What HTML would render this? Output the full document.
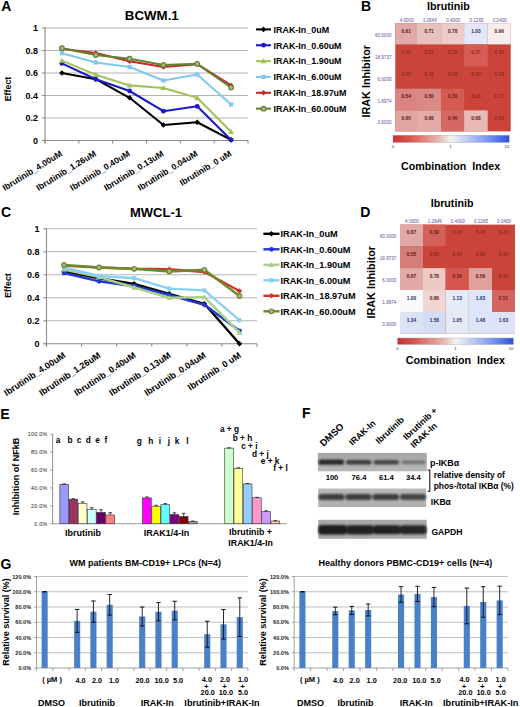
<!DOCTYPE html>
<html><head><meta charset="utf-8"><style>
html,body{margin:0;padding:0;background:#fff;}
body{width:520px;height:707px;overflow:hidden;font-family:"Liberation Sans", sans-serif;}
svg{display:block;}
</style></head><body>
<svg width="520" height="707" viewBox="0 0 520 707" font-family='"Liberation Sans", sans-serif'>
<rect x="0" y="0" width="520" height="707" fill="#ffffff"/>
<text x="1.3" y="10.7" font-size="14" font-weight="bold" text-anchor="start" fill="#000">A</text>
<text x="124.8" y="20.2" font-size="13.3" font-weight="bold" text-anchor="start" fill="#000">BCWM.1</text>
<line x1="45" y1="118" x2="248" y2="118" stroke="#b4b4b4" stroke-width="1.1"/>
<line x1="45" y1="95.5" x2="248" y2="95.5" stroke="#b4b4b4" stroke-width="1.1"/>
<line x1="45" y1="73" x2="248" y2="73" stroke="#b4b4b4" stroke-width="1.1"/>
<line x1="45" y1="50.5" x2="248" y2="50.5" stroke="#b4b4b4" stroke-width="1.1"/>
<line x1="45" y1="28" x2="248" y2="28" stroke="#b4b4b4" stroke-width="1.1"/>
<line x1="45" y1="27.5" x2="45" y2="143.5" stroke="#8c8c8c" stroke-width="1.1"/>
<line x1="42" y1="140.5" x2="248" y2="140.5" stroke="#8c8c8c" stroke-width="1.1"/>
<line x1="42" y1="140.5" x2="45" y2="140.5" stroke="#8c8c8c" stroke-width="1.1"/>
<text x="38" y="143.8" font-size="9" font-weight="bold" text-anchor="end" fill="#000">0</text>
<line x1="42" y1="118" x2="45" y2="118" stroke="#8c8c8c" stroke-width="1.1"/>
<text x="38" y="121.3" font-size="9" font-weight="bold" text-anchor="end" fill="#000">0.2</text>
<line x1="42" y1="95.5" x2="45" y2="95.5" stroke="#8c8c8c" stroke-width="1.1"/>
<text x="38" y="98.8" font-size="9" font-weight="bold" text-anchor="end" fill="#000">0.4</text>
<line x1="42" y1="73" x2="45" y2="73" stroke="#8c8c8c" stroke-width="1.1"/>
<text x="38" y="76.3" font-size="9" font-weight="bold" text-anchor="end" fill="#000">0.6</text>
<line x1="42" y1="50.5" x2="45" y2="50.5" stroke="#8c8c8c" stroke-width="1.1"/>
<text x="38" y="53.8" font-size="9" font-weight="bold" text-anchor="end" fill="#000">0.8</text>
<line x1="42" y1="28" x2="45" y2="28" stroke="#8c8c8c" stroke-width="1.1"/>
<text x="38" y="31.3" font-size="9" font-weight="bold" text-anchor="end" fill="#000">1</text>
<line x1="45" y1="140.5" x2="45" y2="143.5" stroke="#8c8c8c" stroke-width="1.1"/>
<line x1="78.8333" y1="140.5" x2="78.8333" y2="143.5" stroke="#8c8c8c" stroke-width="1.1"/>
<line x1="112.667" y1="140.5" x2="112.667" y2="143.5" stroke="#8c8c8c" stroke-width="1.1"/>
<line x1="146.5" y1="140.5" x2="146.5" y2="143.5" stroke="#8c8c8c" stroke-width="1.1"/>
<line x1="180.333" y1="140.5" x2="180.333" y2="143.5" stroke="#8c8c8c" stroke-width="1.1"/>
<line x1="214.167" y1="140.5" x2="214.167" y2="143.5" stroke="#8c8c8c" stroke-width="1.1"/>
<line x1="248" y1="140.5" x2="248" y2="143.5" stroke="#8c8c8c" stroke-width="1.1"/>
<polyline points="61.9,73.0 95.8,79.2 129.6,97.8 163.4,125.0 197.2,122.3 231.1,139.9" fill="none" stroke="#000000" stroke-width="2.1" stroke-linejoin="round"/>
<path d="M61.9 70.2 L64.7 73.0 L61.9 75.8 L59.1 73.0 Z" fill="#000000"/>
<path d="M95.8 76.4 L98.5 79.2 L95.8 82.0 L93.0 79.2 Z" fill="#000000"/>
<path d="M129.6 95.0 L132.4 97.8 L129.6 100.5 L126.8 97.8 Z" fill="#000000"/>
<path d="M163.4 122.2 L166.2 125.0 L163.4 127.8 L160.6 125.0 Z" fill="#000000"/>
<path d="M197.2 119.5 L200.1 122.3 L197.2 125.1 L194.4 122.3 Z" fill="#000000"/>
<path d="M231.1 137.1 L233.9 139.9 L231.1 142.7 L228.3 139.9 Z" fill="#000000"/>
<polyline points="61.9,63.4 95.8,79.2 129.6,91.0 163.4,111.2 197.2,106.3 231.1,139.9" fill="none" stroke="#1a1ac8" stroke-width="2.1" stroke-linejoin="round"/>
<circle cx="61.9" cy="63.4" r="2.4" fill="#1a1ac8"/>
<circle cx="95.8" cy="79.2" r="2.4" fill="#1a1ac8"/>
<circle cx="129.6" cy="91.0" r="2.4" fill="#1a1ac8"/>
<circle cx="163.4" cy="111.2" r="2.4" fill="#1a1ac8"/>
<circle cx="197.2" cy="106.3" r="2.4" fill="#1a1ac8"/>
<circle cx="231.1" cy="139.9" r="2.4" fill="#1a1ac8"/>
<polyline points="61.9,60.6 95.8,74.7 129.6,85.4 163.4,88.0 197.2,97.8 231.1,131.7" fill="none" stroke="#a4c25a" stroke-width="2.1" stroke-linejoin="round"/>
<path d="M61.9 57.7 L64.8 62.8 L59.0 62.8 Z" fill="#a4c25a"/>
<path d="M95.8 71.8 L98.7 76.9 L92.8 76.9 Z" fill="#a4c25a"/>
<path d="M129.6 82.5 L132.5 87.5 L126.7 87.5 Z" fill="#a4c25a"/>
<path d="M163.4 85.1 L166.3 90.1 L160.5 90.1 Z" fill="#a4c25a"/>
<path d="M197.2 94.8 L200.2 99.9 L194.3 99.9 Z" fill="#a4c25a"/>
<path d="M231.1 128.8 L234.0 133.9 L228.2 133.9 Z" fill="#a4c25a"/>
<polyline points="61.9,53.2 95.8,62.5 129.6,67.0 163.4,80.5 197.2,74.5 231.1,104.5" fill="none" stroke="#80c8f0" stroke-width="2.1" stroke-linejoin="round"/>
<rect x="59.8" y="51.1" width="4.2" height="4.2" fill="#80c8f0"/>
<rect x="93.7" y="60.4" width="4.2" height="4.2" fill="#80c8f0"/>
<rect x="127.5" y="64.9" width="4.2" height="4.2" fill="#80c8f0"/>
<rect x="161.3" y="78.4" width="4.2" height="4.2" fill="#80c8f0"/>
<rect x="195.2" y="72.4" width="4.2" height="4.2" fill="#80c8f0"/>
<rect x="229.0" y="102.4" width="4.2" height="4.2" fill="#80c8f0"/>
<polyline points="61.9,48.8 95.8,53.0 129.6,61.3 163.4,67.0 197.2,64.2 231.1,85.5" fill="none" stroke="#c8282a" stroke-width="2.1" stroke-linejoin="round"/>
<path d="M61.9 46.0 L64.7 48.8 L61.9 51.6 L59.1 48.8 Z" fill="#c8282a"/>
<path d="M95.8 50.2 L98.5 53.0 L95.8 55.8 L93.0 53.0 Z" fill="#c8282a"/>
<path d="M129.6 58.5 L132.4 61.3 L129.6 64.1 L126.8 61.3 Z" fill="#c8282a"/>
<path d="M163.4 64.2 L166.2 67.0 L163.4 69.8 L160.6 67.0 Z" fill="#c8282a"/>
<path d="M197.2 61.4 L200.1 64.2 L197.2 67.0 L194.4 64.2 Z" fill="#c8282a"/>
<path d="M231.1 82.7 L233.9 85.5 L231.1 88.3 L228.3 85.5 Z" fill="#c8282a"/>
<polyline points="61.9,48.2 95.8,55.0 129.6,58.7 163.4,65.0 197.2,63.8 231.1,87.5" fill="none" stroke="#62822e" stroke-width="2.1" stroke-linejoin="round"/>
<circle cx="61.9" cy="48.2" r="2.3" fill="#a8b890" stroke="#62822e" stroke-width="1.2"/>
<circle cx="95.8" cy="55.0" r="2.3" fill="#a8b890" stroke="#62822e" stroke-width="1.2"/>
<circle cx="129.6" cy="58.7" r="2.3" fill="#a8b890" stroke="#62822e" stroke-width="1.2"/>
<circle cx="163.4" cy="65.0" r="2.3" fill="#a8b890" stroke="#62822e" stroke-width="1.2"/>
<circle cx="197.2" cy="63.8" r="2.3" fill="#a8b890" stroke="#62822e" stroke-width="1.2"/>
<circle cx="231.1" cy="87.5" r="2.3" fill="#a8b890" stroke="#62822e" stroke-width="1.2"/>
<text x="62.9167" y="155.3" font-size="8.6" font-weight="bold" text-anchor="end" fill="#000" transform="rotate(-31.5 62.9167 155.3)">Ibrutinib_4.00uM</text>
<text x="96.75" y="155.3" font-size="8.6" font-weight="bold" text-anchor="end" fill="#000" transform="rotate(-31.5 96.75 155.3)">Ibrutinib_1.26uM</text>
<text x="130.583" y="155.3" font-size="8.6" font-weight="bold" text-anchor="end" fill="#000" transform="rotate(-31.5 130.583 155.3)">Ibrutinib_0.40uM</text>
<text x="164.417" y="155.3" font-size="8.6" font-weight="bold" text-anchor="end" fill="#000" transform="rotate(-31.5 164.417 155.3)">Ibrutinib_0.13uM</text>
<text x="198.25" y="155.3" font-size="8.6" font-weight="bold" text-anchor="end" fill="#000" transform="rotate(-31.5 198.25 155.3)">Ibrutinib_0.04uM</text>
<text x="232.083" y="155.3" font-size="8.6" font-weight="bold" text-anchor="end" fill="#000" transform="rotate(-31.5 232.083 155.3)">Ibrutinib_0 uM</text>
<text x="11.3" y="89" font-size="8.9" font-weight="bold" text-anchor="middle" fill="#000" transform="rotate(-90 11.3 89)">Effect</text>
<line x1="256" y1="29.4" x2="271" y2="29.4" stroke="#000000" stroke-width="2.1"/>
<path d="M263.5 26.6 L266.3 29.4 L263.5 32.2 L260.7 29.4 Z" fill="#000000"/>
<text x="273.5" y="32.7" font-size="8.95" font-weight="bold" text-anchor="start" fill="#000">IRAK-In_0uM</text>
<line x1="256" y1="45.25" x2="271" y2="45.25" stroke="#1a1ac8" stroke-width="2.1"/>
<circle cx="263.5" cy="45.2" r="2.4" fill="#1a1ac8"/>
<text x="273.5" y="48.55" font-size="8.95" font-weight="bold" text-anchor="start" fill="#000">IRAK-In_0.60uM</text>
<line x1="256" y1="61.1" x2="271" y2="61.1" stroke="#a4c25a" stroke-width="2.1"/>
<path d="M263.5 58.2 L266.4 63.3 L260.6 63.3 Z" fill="#a4c25a"/>
<text x="273.5" y="64.4" font-size="8.95" font-weight="bold" text-anchor="start" fill="#000">IRAK-In_1.90uM</text>
<line x1="256" y1="76.95" x2="271" y2="76.95" stroke="#80c8f0" stroke-width="2.1"/>
<rect x="261.4" y="74.8" width="4.2" height="4.2" fill="#80c8f0"/>
<text x="273.5" y="80.25" font-size="8.95" font-weight="bold" text-anchor="start" fill="#000">IRAK-In_6.00uM</text>
<line x1="256" y1="92.8" x2="271" y2="92.8" stroke="#c8282a" stroke-width="2.1"/>
<path d="M263.5 90.0 L266.3 92.8 L263.5 95.6 L260.7 92.8 Z" fill="#c8282a"/>
<text x="273.5" y="96.1" font-size="8.95" font-weight="bold" text-anchor="start" fill="#000">IRAK-In_18.97uM</text>
<line x1="256" y1="108.65" x2="271" y2="108.65" stroke="#62822e" stroke-width="2.1"/>
<circle cx="263.5" cy="108.7" r="2.3" fill="#a8b890" stroke="#62822e" stroke-width="1.2"/>
<text x="273.5" y="111.95" font-size="8.95" font-weight="bold" text-anchor="start" fill="#000">IRAK-In_60.00uM</text>
<text x="1" y="216.6" font-size="14" font-weight="bold" text-anchor="start" fill="#000">C</text>
<text x="130" y="217.2" font-size="13" font-weight="bold" text-anchor="start" fill="#000">MWCL-1</text>
<line x1="46.5" y1="320.75" x2="257" y2="320.75" stroke="#b4b4b4" stroke-width="1.1"/>
<line x1="46.5" y1="297.75" x2="257" y2="297.75" stroke="#b4b4b4" stroke-width="1.1"/>
<line x1="46.5" y1="274.75" x2="257" y2="274.75" stroke="#b4b4b4" stroke-width="1.1"/>
<line x1="46.5" y1="251.75" x2="257" y2="251.75" stroke="#b4b4b4" stroke-width="1.1"/>
<line x1="46.5" y1="228.75" x2="257" y2="228.75" stroke="#b4b4b4" stroke-width="1.1"/>
<line x1="46.5" y1="228.25" x2="46.5" y2="346.75" stroke="#8c8c8c" stroke-width="1.1"/>
<line x1="43.5" y1="343.75" x2="257" y2="343.75" stroke="#8c8c8c" stroke-width="1.1"/>
<line x1="43.5" y1="343.75" x2="46.5" y2="343.75" stroke="#8c8c8c" stroke-width="1.1"/>
<text x="39.5" y="347.05" font-size="9" font-weight="bold" text-anchor="end" fill="#000">0</text>
<line x1="43.5" y1="320.75" x2="46.5" y2="320.75" stroke="#8c8c8c" stroke-width="1.1"/>
<text x="39.5" y="324.05" font-size="9" font-weight="bold" text-anchor="end" fill="#000">0.2</text>
<line x1="43.5" y1="297.75" x2="46.5" y2="297.75" stroke="#8c8c8c" stroke-width="1.1"/>
<text x="39.5" y="301.05" font-size="9" font-weight="bold" text-anchor="end" fill="#000">0.4</text>
<line x1="43.5" y1="274.75" x2="46.5" y2="274.75" stroke="#8c8c8c" stroke-width="1.1"/>
<text x="39.5" y="278.05" font-size="9" font-weight="bold" text-anchor="end" fill="#000">0.6</text>
<line x1="43.5" y1="251.75" x2="46.5" y2="251.75" stroke="#8c8c8c" stroke-width="1.1"/>
<text x="39.5" y="255.05" font-size="9" font-weight="bold" text-anchor="end" fill="#000">0.8</text>
<line x1="43.5" y1="228.75" x2="46.5" y2="228.75" stroke="#8c8c8c" stroke-width="1.1"/>
<text x="39.5" y="232.05" font-size="9" font-weight="bold" text-anchor="end" fill="#000">1</text>
<line x1="46.5" y1="343.75" x2="46.5" y2="346.75" stroke="#8c8c8c" stroke-width="1.1"/>
<line x1="81.5833" y1="343.75" x2="81.5833" y2="346.75" stroke="#8c8c8c" stroke-width="1.1"/>
<line x1="116.667" y1="343.75" x2="116.667" y2="346.75" stroke="#8c8c8c" stroke-width="1.1"/>
<line x1="151.75" y1="343.75" x2="151.75" y2="346.75" stroke="#8c8c8c" stroke-width="1.1"/>
<line x1="186.833" y1="343.75" x2="186.833" y2="346.75" stroke="#8c8c8c" stroke-width="1.1"/>
<line x1="221.917" y1="343.75" x2="221.917" y2="346.75" stroke="#8c8c8c" stroke-width="1.1"/>
<line x1="257" y1="343.75" x2="257" y2="346.75" stroke="#8c8c8c" stroke-width="1.1"/>
<polyline points="64.0,271.3 99.1,278.2 134.2,283.9 169.3,293.8 204.4,303.8 239.5,343.8" fill="none" stroke="#000000" stroke-width="2.4" stroke-linejoin="round"/>
<path d="M64.0 268.5 L66.8 271.3 L64.0 274.1 L61.2 271.3 Z" fill="#000000"/>
<path d="M99.1 275.4 L101.9 278.2 L99.1 281.0 L96.3 278.2 Z" fill="#000000"/>
<path d="M134.2 281.1 L137.0 283.9 L134.2 286.8 L131.4 283.9 Z" fill="#000000"/>
<path d="M169.3 291.0 L172.1 293.8 L169.3 296.6 L166.5 293.8 Z" fill="#000000"/>
<path d="M204.4 301.0 L207.2 303.8 L204.4 306.6 L201.6 303.8 Z" fill="#000000"/>
<path d="M239.5 340.9 L242.3 343.8 L239.5 346.6 L236.7 343.8 Z" fill="#000000"/>
<polyline points="64.0,273.0 99.1,281.3 134.2,286.2 169.3,295.0 204.4,304.8 239.5,330.8" fill="none" stroke="#2438d0" stroke-width="2.4" stroke-linejoin="round"/>
<circle cx="64.0" cy="273.0" r="2.4" fill="#2438d0"/>
<circle cx="99.1" cy="281.3" r="2.4" fill="#2438d0"/>
<circle cx="134.2" cy="286.2" r="2.4" fill="#2438d0"/>
<circle cx="169.3" cy="295.0" r="2.4" fill="#2438d0"/>
<circle cx="204.4" cy="304.8" r="2.4" fill="#2438d0"/>
<circle cx="239.5" cy="330.8" r="2.4" fill="#2438d0"/>
<polyline points="64.0,269.5 99.1,277.1 134.2,287.5 169.3,297.8 204.4,297.1 239.5,332.7" fill="none" stroke="#a8d08c" stroke-width="2.4" stroke-linejoin="round"/>
<path d="M64.0 266.6 L66.9 271.6 L61.1 271.6 Z" fill="#a8d08c"/>
<path d="M99.1 274.2 L102.0 279.2 L96.2 279.2 Z" fill="#a8d08c"/>
<path d="M134.2 284.6 L137.1 289.7 L131.3 289.7 Z" fill="#a8d08c"/>
<path d="M169.3 294.9 L172.2 299.9 L166.4 299.9 Z" fill="#a8d08c"/>
<path d="M204.4 294.2 L207.3 299.2 L201.5 299.2 Z" fill="#a8d08c"/>
<path d="M239.5 329.8 L242.4 334.9 L236.6 334.9 Z" fill="#a8d08c"/>
<polyline points="64.0,267.5 99.1,275.9 134.2,278.2 169.3,288.6 204.4,290.4 239.5,320.2" fill="none" stroke="#88d0f4" stroke-width="2.4" stroke-linejoin="round"/>
<rect x="61.9" y="265.4" width="4.2" height="4.2" fill="#88d0f4"/>
<rect x="97.0" y="273.8" width="4.2" height="4.2" fill="#88d0f4"/>
<rect x="132.1" y="276.1" width="4.2" height="4.2" fill="#88d0f4"/>
<rect x="167.2" y="286.4" width="4.2" height="4.2" fill="#88d0f4"/>
<rect x="202.3" y="288.3" width="4.2" height="4.2" fill="#88d0f4"/>
<rect x="237.4" y="318.1" width="4.2" height="4.2" fill="#88d0f4"/>
<polyline points="64.0,265.6 99.1,267.5 134.2,268.8 169.3,269.2 204.4,272.0 239.5,291.0" fill="none" stroke="#d4342a" stroke-width="2.4" stroke-linejoin="round"/>
<path d="M64.0 262.8 L66.8 265.6 L64.0 268.4 L61.2 265.6 Z" fill="#d4342a"/>
<path d="M99.1 264.7 L101.9 267.5 L99.1 270.3 L96.3 267.5 Z" fill="#d4342a"/>
<path d="M134.2 266.0 L137.0 268.8 L134.2 271.6 L131.4 268.8 Z" fill="#d4342a"/>
<path d="M169.3 266.4 L172.1 269.2 L169.3 272.0 L166.5 269.2 Z" fill="#d4342a"/>
<path d="M204.4 269.2 L207.2 272.0 L204.4 274.8 L201.6 272.0 Z" fill="#d4342a"/>
<path d="M239.5 288.2 L242.3 291.0 L239.5 293.8 L236.7 291.0 Z" fill="#d4342a"/>
<polyline points="64.0,265.0 99.1,267.5 134.2,268.8 169.3,271.5 204.4,269.8 239.5,296.0" fill="none" stroke="#6a8a2e" stroke-width="2.4" stroke-linejoin="round"/>
<circle cx="64.0" cy="265.0" r="2.3" fill="#a8b890" stroke="#6a8a2e" stroke-width="1.2"/>
<circle cx="99.1" cy="267.5" r="2.3" fill="#a8b890" stroke="#6a8a2e" stroke-width="1.2"/>
<circle cx="134.2" cy="268.8" r="2.3" fill="#a8b890" stroke="#6a8a2e" stroke-width="1.2"/>
<circle cx="169.3" cy="271.5" r="2.3" fill="#a8b890" stroke="#6a8a2e" stroke-width="1.2"/>
<circle cx="204.4" cy="269.8" r="2.3" fill="#a8b890" stroke="#6a8a2e" stroke-width="1.2"/>
<circle cx="239.5" cy="296.0" r="2.3" fill="#a8b890" stroke="#6a8a2e" stroke-width="1.2"/>
<text x="66.2417" y="356.75" font-size="9" font-weight="bold" text-anchor="end" fill="#000" transform="rotate(-33.5 66.2417 356.75)">Ibrutinib_4.00uM</text>
<text x="101.325" y="356.75" font-size="9" font-weight="bold" text-anchor="end" fill="#000" transform="rotate(-33.5 101.325 356.75)">Ibrutinib_1.26uM</text>
<text x="136.408" y="356.75" font-size="9" font-weight="bold" text-anchor="end" fill="#000" transform="rotate(-33.5 136.408 356.75)">Ibrutinib_0.40uM</text>
<text x="171.492" y="356.75" font-size="9" font-weight="bold" text-anchor="end" fill="#000" transform="rotate(-33.5 171.492 356.75)">Ibrutinib_0.13uM</text>
<text x="206.575" y="356.75" font-size="9" font-weight="bold" text-anchor="end" fill="#000" transform="rotate(-33.5 206.575 356.75)">Ibrutinib_0.04uM</text>
<text x="241.658" y="356.75" font-size="9" font-weight="bold" text-anchor="end" fill="#000" transform="rotate(-33.5 241.658 356.75)">Ibrutinib_0 uM</text>
<text x="11.3" y="285.5" font-size="8.9" font-weight="bold" text-anchor="middle" fill="#000" transform="rotate(-90 11.3 285.5)">Effect</text>
<line x1="263.4" y1="233.8" x2="279.5" y2="233.8" stroke="#000000" stroke-width="2.4"/>
<path d="M271.4 231.0 L274.2 233.8 L271.4 236.6 L268.6 233.8 Z" fill="#000000"/>
<text x="280.5" y="237.1" font-size="9.2" font-weight="bold" text-anchor="start" fill="#000">IRAK-In_0uM</text>
<line x1="263.4" y1="249.3" x2="279.5" y2="249.3" stroke="#2438d0" stroke-width="2.4"/>
<circle cx="271.4" cy="249.3" r="2.4" fill="#2438d0"/>
<text x="280.5" y="252.6" font-size="9.2" font-weight="bold" text-anchor="start" fill="#000">IRAK-In_0.60uM</text>
<line x1="263.4" y1="264.8" x2="279.5" y2="264.8" stroke="#a8d08c" stroke-width="2.4"/>
<path d="M271.4 261.9 L274.3 267.0 L268.6 267.0 Z" fill="#a8d08c"/>
<text x="280.5" y="268.1" font-size="9.2" font-weight="bold" text-anchor="start" fill="#000">IRAK-In_1.90uM</text>
<line x1="263.4" y1="280.3" x2="279.5" y2="280.3" stroke="#88d0f4" stroke-width="2.4"/>
<rect x="269.3" y="278.2" width="4.2" height="4.2" fill="#88d0f4"/>
<text x="280.5" y="283.6" font-size="9.2" font-weight="bold" text-anchor="start" fill="#000">IRAK-In_6.00uM</text>
<line x1="263.4" y1="295.8" x2="279.5" y2="295.8" stroke="#d4342a" stroke-width="2.4"/>
<path d="M271.4 293.0 L274.2 295.8 L271.4 298.6 L268.6 295.8 Z" fill="#d4342a"/>
<text x="280.5" y="299.1" font-size="9.2" font-weight="bold" text-anchor="start" fill="#000">IRAK-In_18.97uM</text>
<line x1="263.4" y1="311.3" x2="279.5" y2="311.3" stroke="#6a8a2e" stroke-width="2.4"/>
<circle cx="271.4" cy="311.3" r="2.3" fill="#a8b890" stroke="#6a8a2e" stroke-width="1.2"/>
<text x="280.5" y="314.6" font-size="9.2" font-weight="bold" text-anchor="start" fill="#000">IRAK-In_60.00uM</text>
<text x="361" y="10.8" font-size="14" font-weight="bold" text-anchor="start" fill="#000">B</text>
<text x="427.1" y="9.6" font-size="10.7" font-weight="bold" text-anchor="start" fill="#000">Ibrutinib</text>
<text x="406.75" y="21.8" font-size="4.6" font-weight="normal" text-anchor="middle" fill="#6a4a9e">4.0000</text>
<text x="429.7" y="21.8" font-size="4.6" font-weight="normal" text-anchor="middle" fill="#6a4a9e">1.2649</text>
<text x="453.25" y="21.8" font-size="4.6" font-weight="normal" text-anchor="middle" fill="#6a4a9e">0.4000</text>
<text x="476.5" y="21.8" font-size="4.6" font-weight="normal" text-anchor="middle" fill="#6a4a9e">0.1265</text>
<text x="499.8" y="21.8" font-size="4.6" font-weight="normal" text-anchor="middle" fill="#6a4a9e">0.0400</text>
<rect x="395.3" y="23.2" width="115.4" height="108.2" fill="#cb4439"/>
<text x="391.5" y="37" font-size="4.6" font-weight="normal" text-anchor="end" fill="#6a4a9e">60.0000</text>
<rect x="395.3" y="23.2" width="21.7" height="21.2" fill="#e0a9a5"/>
<text x="406.15" y="32.6" font-size="4.8" font-weight="bold" text-anchor="middle" fill="#5a1414">0.61</text>
<rect x="417" y="23.2" width="24.2" height="21.2" fill="#e7c1bd"/>
<text x="429.1" y="32.6" font-size="4.8" font-weight="bold" text-anchor="middle" fill="#5a1414">0.71</text>
<rect x="441.2" y="23.2" width="22.9" height="21.2" fill="#ecccc9"/>
<text x="452.65" y="32.6" font-size="4.8" font-weight="bold" text-anchor="middle" fill="#5a1414">0.78</text>
<rect x="464.1" y="23.2" width="23.6" height="21.2" fill="#e2e7f8"/>
<text x="475.9" y="32.6" font-size="4.8" font-weight="bold" text-anchor="middle" fill="#1c2a6e">1.03</text>
<rect x="487.7" y="23.2" width="23" height="21.2" fill="#f5eeec"/>
<text x="499.2" y="32.6" font-size="4.8" font-weight="bold" text-anchor="middle" fill="#5a1414">0.96</text>
<text x="391.5" y="58.65" font-size="4.6" font-weight="normal" text-anchor="end" fill="#6a4a9e">18.9737</text>
<text x="406.15" y="54.25" font-size="4.8" font-weight="bold" text-anchor="middle" fill="#8e2a22">0.10</text>
<text x="429.1" y="54.25" font-size="4.8" font-weight="bold" text-anchor="middle" fill="#8e2a22">0.27</text>
<text x="452.65" y="54.25" font-size="4.8" font-weight="bold" text-anchor="middle" fill="#8e2a22">0.32</text>
<rect x="464.1" y="44.4" width="23.6" height="22.1" fill="#d65c55"/>
<text x="475.9" y="54.25" font-size="4.8" font-weight="bold" text-anchor="middle" fill="#8e2a22">0.37</text>
<text x="499.2" y="54.25" font-size="4.8" font-weight="bold" text-anchor="middle" fill="#8e2a22">0.30</text>
<text x="391.5" y="80.8" font-size="4.6" font-weight="normal" text-anchor="end" fill="#6a4a9e">6.0000</text>
<text x="406.15" y="76.4" font-size="4.8" font-weight="bold" text-anchor="middle" fill="#8e2a22">0.15</text>
<text x="429.1" y="76.4" font-size="4.8" font-weight="bold" text-anchor="middle" fill="#8e2a22">0.16</text>
<text x="452.65" y="76.4" font-size="4.8" font-weight="bold" text-anchor="middle" fill="#8e2a22">0.28</text>
<text x="475.9" y="76.4" font-size="4.8" font-weight="bold" text-anchor="middle" fill="#8e2a22">0.24</text>
<text x="499.2" y="76.4" font-size="4.8" font-weight="bold" text-anchor="middle" fill="#8e2a22">0.18</text>
<text x="391.5" y="102.725" font-size="4.6" font-weight="normal" text-anchor="end" fill="#6a4a9e">1.8974</text>
<rect x="395.3" y="88.7" width="21.7" height="21.65" fill="#d98480"/>
<text x="406.15" y="98.325" font-size="4.8" font-weight="bold" text-anchor="middle" fill="#5a1414">0.54</text>
<rect x="417" y="88.7" width="24.2" height="21.65" fill="#d98a85"/>
<text x="429.1" y="98.325" font-size="4.8" font-weight="bold" text-anchor="middle" fill="#5a1414">0.50</text>
<rect x="441.2" y="88.7" width="22.9" height="21.65" fill="#d55a52"/>
<text x="452.65" y="98.325" font-size="4.8" font-weight="bold" text-anchor="middle" fill="#6a1c18">0.30</text>
<text x="475.9" y="98.325" font-size="4.8" font-weight="bold" text-anchor="middle" fill="#8e2a22">0.16</text>
<text x="499.2" y="98.325" font-size="4.8" font-weight="bold" text-anchor="middle" fill="#8e2a22">0.17</text>
<text x="391.5" y="124.075" font-size="4.6" font-weight="normal" text-anchor="end" fill="#6a4a9e">0.6000</text>
<rect x="395.3" y="110.35" width="21.7" height="21.05" fill="#e2a4a0"/>
<text x="406.15" y="119.675" font-size="4.8" font-weight="bold" text-anchor="middle" fill="#5a1414">0.65</text>
<rect x="417" y="110.35" width="24.2" height="21.05" fill="#e4aaa6"/>
<text x="429.1" y="119.675" font-size="4.8" font-weight="bold" text-anchor="middle" fill="#5a1414">0.66</text>
<rect x="441.2" y="110.35" width="22.9" height="21.05" fill="#d76763"/>
<text x="452.65" y="119.675" font-size="4.8" font-weight="bold" text-anchor="middle" fill="#6a1c18">0.46</text>
<rect x="464.1" y="110.35" width="23.6" height="21.05" fill="#e8b8b5"/>
<text x="475.9" y="119.675" font-size="4.8" font-weight="bold" text-anchor="middle" fill="#5a1414">0.68</text>
<text x="499.2" y="119.675" font-size="4.8" font-weight="bold" text-anchor="middle" fill="#8e2a22">0.20</text>
<text x="370.2" y="117.5" font-size="10.8" font-weight="bold" text-anchor="start" fill="#000" transform="rotate(-90 370.2 117.5)">IRAK Inhibitor</text>
<linearGradient id="cbB" x1="0" x2="1" y1="0" y2="0">
<stop offset="0" stop-color="#c83030"/><stop offset="0.1485" stop-color="#d65850"/><stop offset="0.396" stop-color="#ebb6b0"/><stop offset="0.495" stop-color="#f4f2f2"/><stop offset="0.596" stop-color="#cdd7f5"/><stop offset="0.798" stop-color="#809ef0"/><stop offset="1" stop-color="#2c50e4"/></linearGradient>
<rect x="393" y="135.2" width="116.2" height="7.3" fill="url(#cbB)" stroke="#b0a0a0" stroke-width="0.4"/>
<text x="393" y="147.6" font-size="4.4" font-weight="normal" text-anchor="middle" fill="#333">0</text>
<text x="450.519" y="147.6" font-size="4.4" font-weight="normal" text-anchor="middle" fill="#333">1</text>
<text x="506.7" y="147.6" font-size="4.4" font-weight="normal" text-anchor="middle" fill="#333">10</text>
<text x="401" y="170" font-size="10.7" font-weight="bold" text-anchor="start" fill="#000">Combination  Index</text>
<text x="360.3" y="217.2" font-size="14" font-weight="bold" text-anchor="start" fill="#000">D</text>
<text x="430.7" y="206.5" font-size="10.7" font-weight="bold" text-anchor="start" fill="#000">Ibrutinib</text>
<text x="412.1" y="223.4" font-size="4.6" font-weight="normal" text-anchor="middle" fill="#6a4a9e">4.0000</text>
<text x="434.9" y="223.4" font-size="4.6" font-weight="normal" text-anchor="middle" fill="#6a4a9e">1.2649</text>
<text x="457.8" y="223.4" font-size="4.6" font-weight="normal" text-anchor="middle" fill="#6a4a9e">0.4000</text>
<text x="481" y="223.4" font-size="4.6" font-weight="normal" text-anchor="middle" fill="#6a4a9e">0.1265</text>
<text x="504.1" y="223.4" font-size="4.6" font-weight="normal" text-anchor="middle" fill="#6a4a9e">0.0400</text>
<rect x="400" y="224.6" width="115" height="109.2" fill="#cb4439"/>
<text x="396.4" y="238.25" font-size="4.6" font-weight="normal" text-anchor="end" fill="#6a4a9e">60.0000</text>
<rect x="400" y="224.6" width="23" height="21.7" fill="#dfa9a6"/>
<text x="411.5" y="234.25" font-size="4.8" font-weight="bold" text-anchor="middle" fill="#5a1414">0.67</text>
<rect x="423" y="224.6" width="22.6" height="21.7" fill="#d4605a"/>
<text x="434.3" y="234.25" font-size="4.8" font-weight="bold" text-anchor="middle" fill="#6a1c18">0.39</text>
<text x="457.2" y="234.25" font-size="4.8" font-weight="bold" text-anchor="middle" fill="#8e2a22">0.26</text>
<text x="480.4" y="234.25" font-size="4.8" font-weight="bold" text-anchor="middle" fill="#8e2a22">0.28</text>
<text x="503.5" y="234.25" font-size="4.8" font-weight="bold" text-anchor="middle" fill="#8e2a22">0.23</text>
<text x="396.4" y="260" font-size="4.6" font-weight="normal" text-anchor="end" fill="#6a4a9e">18.9737</text>
<rect x="400" y="246.3" width="23" height="21.8" fill="#d57e78"/>
<text x="411.5" y="256" font-size="4.8" font-weight="bold" text-anchor="middle" fill="#5a1414">0.55</text>
<text x="434.3" y="256" font-size="4.8" font-weight="bold" text-anchor="middle" fill="#8e2a22">0.20</text>
<text x="457.2" y="256" font-size="4.8" font-weight="bold" text-anchor="middle" fill="#8e2a22">0.14</text>
<text x="480.4" y="256" font-size="4.8" font-weight="bold" text-anchor="middle" fill="#8e2a22">0.09</text>
<text x="503.5" y="256" font-size="4.8" font-weight="bold" text-anchor="middle" fill="#8e2a22">0.16</text>
<text x="396.4" y="281.85" font-size="4.6" font-weight="normal" text-anchor="end" fill="#6a4a9e">6.0000</text>
<rect x="400" y="268.1" width="23" height="21.9" fill="#e0aaa6"/>
<text x="411.5" y="277.85" font-size="4.8" font-weight="bold" text-anchor="middle" fill="#5a1414">0.67</text>
<rect x="423" y="268.1" width="22.6" height="21.9" fill="#eccac6"/>
<text x="434.3" y="277.85" font-size="4.8" font-weight="bold" text-anchor="middle" fill="#5a1414">0.78</text>
<rect x="445.6" y="268.1" width="23.2" height="21.9" fill="#d55650"/>
<text x="457.2" y="277.85" font-size="4.8" font-weight="bold" text-anchor="middle" fill="#6a1c18">0.36</text>
<rect x="468.8" y="268.1" width="23.2" height="21.9" fill="#e0a09c"/>
<text x="480.4" y="277.85" font-size="4.8" font-weight="bold" text-anchor="middle" fill="#5a1414">0.56</text>
<text x="503.5" y="277.85" font-size="4.8" font-weight="bold" text-anchor="middle" fill="#8e2a22">0.10</text>
<text x="396.4" y="303.8" font-size="4.6" font-weight="normal" text-anchor="end" fill="#6a4a9e">1.8974</text>
<rect x="400" y="290" width="23" height="22" fill="#fbf9f9"/>
<text x="411.5" y="299.8" font-size="4.8" font-weight="bold" text-anchor="middle" fill="#1c2a6e">1.00</text>
<rect x="423" y="290" width="22.6" height="22" fill="#efd6d3"/>
<text x="434.3" y="299.8" font-size="4.8" font-weight="bold" text-anchor="middle" fill="#5a1414">0.86</text>
<rect x="445.6" y="290" width="23.2" height="22" fill="#e6ebf8"/>
<text x="457.2" y="299.8" font-size="4.8" font-weight="bold" text-anchor="middle" fill="#1c2a6e">1.13</text>
<rect x="468.8" y="290" width="23.2" height="22" fill="#dfe6f8"/>
<text x="480.4" y="299.8" font-size="4.8" font-weight="bold" text-anchor="middle" fill="#1c2a6e">1.63</text>
<rect x="492" y="290" width="23" height="22" fill="#d4645e"/>
<text x="503.5" y="299.8" font-size="4.8" font-weight="bold" text-anchor="middle" fill="#6a1c18">0.51</text>
<text x="396.4" y="325.7" font-size="4.6" font-weight="normal" text-anchor="end" fill="#6a4a9e">0.6000</text>
<rect x="400" y="312" width="23" height="21.8" fill="#dbe3f7"/>
<text x="411.5" y="321.7" font-size="4.8" font-weight="bold" text-anchor="middle" fill="#1c2a6e">1.34</text>
<rect x="423" y="312" width="22.6" height="21.8" fill="#d4ddf6"/>
<text x="434.3" y="321.7" font-size="4.8" font-weight="bold" text-anchor="middle" fill="#1c2a6e">1.58</text>
<rect x="445.6" y="312" width="23.2" height="21.8" fill="#e6eaf7"/>
<text x="457.2" y="321.7" font-size="4.8" font-weight="bold" text-anchor="middle" fill="#1c2a6e">1.05</text>
<rect x="468.8" y="312" width="23.2" height="21.8" fill="#dde4f7"/>
<text x="480.4" y="321.7" font-size="4.8" font-weight="bold" text-anchor="middle" fill="#1c2a6e">1.48</text>
<rect x="492" y="312" width="23" height="21.8" fill="#dde4f7"/>
<text x="503.5" y="321.7" font-size="4.8" font-weight="bold" text-anchor="middle" fill="#1c2a6e">1.63</text>
<text x="374.5" y="318.5" font-size="10.8" font-weight="bold" text-anchor="start" fill="#000" transform="rotate(-90 374.5 318.5)">IRAK Inhibitor</text>
<linearGradient id="cbD" x1="0" x2="1" y1="0" y2="0">
<stop offset="0" stop-color="#c83030"/><stop offset="0.15" stop-color="#d65850"/><stop offset="0.4" stop-color="#ebb6b0"/><stop offset="0.5" stop-color="#f4f2f2"/><stop offset="0.6" stop-color="#cdd7f5"/><stop offset="0.8" stop-color="#809ef0"/><stop offset="1" stop-color="#2c50e4"/></linearGradient>
<rect x="397.5" y="338" width="116" height="6.5" fill="url(#cbD)" stroke="#b0a0a0" stroke-width="0.4"/>
<text x="397.5" y="350" font-size="4.4" font-weight="normal" text-anchor="middle" fill="#333">0</text>
<text x="455.5" y="350" font-size="4.4" font-weight="normal" text-anchor="middle" fill="#333">1</text>
<text x="511" y="350" font-size="4.4" font-weight="normal" text-anchor="middle" fill="#333">10</text>
<text x="405.8" y="364" font-size="10.7" font-weight="bold" text-anchor="start" fill="#000">Combination  Index</text>
<text x="0.2" y="418.6" font-size="14.2" font-weight="bold" text-anchor="start" fill="#000">E</text>
<line x1="52.6" y1="434" x2="52.6" y2="523.75" stroke="#9a9a9a" stroke-width="1.1"/>
<line x1="52.6" y1="523.75" x2="287" y2="523.75" stroke="#9a9a9a" stroke-width="1.1"/>
<line x1="50.2" y1="523.75" x2="52.6" y2="523.75" stroke="#9a9a9a" stroke-width="1"/>
<text x="47.5" y="525.55" font-size="5.3" font-weight="normal" text-anchor="end" fill="#222" letter-spacing="0.3">0.0%</text>
<line x1="50.2" y1="505.85" x2="52.6" y2="505.85" stroke="#9a9a9a" stroke-width="1"/>
<text x="47.5" y="507.65" font-size="5.3" font-weight="normal" text-anchor="end" fill="#222" letter-spacing="0.3">20.0%</text>
<line x1="50.2" y1="487.95" x2="52.6" y2="487.95" stroke="#9a9a9a" stroke-width="1"/>
<text x="47.5" y="489.75" font-size="5.3" font-weight="normal" text-anchor="end" fill="#222" letter-spacing="0.3">40.0%</text>
<line x1="50.2" y1="470.05" x2="52.6" y2="470.05" stroke="#9a9a9a" stroke-width="1"/>
<text x="47.5" y="471.85" font-size="5.3" font-weight="normal" text-anchor="end" fill="#222" letter-spacing="0.3">60.0%</text>
<line x1="50.2" y1="452.15" x2="52.6" y2="452.15" stroke="#9a9a9a" stroke-width="1"/>
<text x="47.5" y="453.95" font-size="5.3" font-weight="normal" text-anchor="end" fill="#222" letter-spacing="0.3">80.0%</text>
<line x1="50.2" y1="434.25" x2="52.6" y2="434.25" stroke="#9a9a9a" stroke-width="1"/>
<text x="47.5" y="436.05" font-size="5.3" font-weight="normal" text-anchor="end" fill="#222" letter-spacing="0.3">100.0%</text>
<text x="18.8" y="476.5" font-size="9" font-weight="bold" text-anchor="middle" fill="#000" transform="rotate(-90 18.8 476.5)">Inhibition of NFkB</text>
<rect x="59.85" y="484.37" width="8.7" height="39.38" fill="#9999ff" stroke="#333" stroke-width="0.6"/>
<line x1="64.2" y1="483.923" x2="64.2" y2="484.37" stroke="#222" stroke-width="0.8"/>
<line x1="62.4" y1="483.923" x2="66" y2="483.923" stroke="#222" stroke-width="0.9"/>
<rect x="69.05" y="499.227" width="8.7" height="24.523" fill="#993366" stroke="#333" stroke-width="0.6"/>
<line x1="73.4" y1="498.779" x2="73.4" y2="499.227" stroke="#222" stroke-width="0.8"/>
<line x1="71.6" y1="498.779" x2="75.2" y2="498.779" stroke="#222" stroke-width="0.9"/>
<rect x="78.25" y="503.255" width="8.7" height="20.4955" fill="#ffffcc" stroke="#333" stroke-width="0.6"/>
<line x1="82.6" y1="501.912" x2="82.6" y2="503.255" stroke="#222" stroke-width="0.8"/>
<line x1="80.8" y1="501.912" x2="84.4" y2="501.912" stroke="#222" stroke-width="0.9"/>
<rect x="87.45" y="509.519" width="8.7" height="14.2305" fill="#ccffff" stroke="#333" stroke-width="0.6"/>
<line x1="91.8" y1="507.729" x2="91.8" y2="509.519" stroke="#222" stroke-width="0.8"/>
<line x1="90" y1="507.729" x2="93.6" y2="507.729" stroke="#222" stroke-width="0.9"/>
<rect x="96.65" y="512.473" width="8.7" height="11.277" fill="#660066" stroke="#333" stroke-width="0.6"/>
<line x1="101" y1="509.788" x2="101" y2="512.473" stroke="#222" stroke-width="0.8"/>
<line x1="99.2" y1="509.788" x2="102.8" y2="509.788" stroke="#222" stroke-width="0.9"/>
<rect x="105.85" y="514.979" width="8.7" height="8.771" fill="#ff8080" stroke="#333" stroke-width="0.6"/>
<line x1="110.2" y1="512.742" x2="110.2" y2="514.979" stroke="#222" stroke-width="0.8"/>
<line x1="108.4" y1="512.742" x2="112" y2="512.742" stroke="#222" stroke-width="0.9"/>
<rect x="142.55" y="497.885" width="8.7" height="25.8655" fill="#ff00ff" stroke="#333" stroke-width="0.6"/>
<line x1="146.9" y1="496.99" x2="146.9" y2="497.885" stroke="#222" stroke-width="0.8"/>
<line x1="145.1" y1="496.99" x2="148.7" y2="496.99" stroke="#222" stroke-width="0.9"/>
<rect x="151.75" y="506.208" width="8.7" height="17.542" fill="#ffff00" stroke="#333" stroke-width="0.6"/>
<line x1="156.1" y1="505.313" x2="156.1" y2="506.208" stroke="#222" stroke-width="0.8"/>
<line x1="154.3" y1="505.313" x2="157.9" y2="505.313" stroke="#222" stroke-width="0.9"/>
<rect x="160.95" y="504.597" width="8.7" height="19.153" fill="#66ffff" stroke="#333" stroke-width="0.6"/>
<line x1="165.3" y1="503.702" x2="165.3" y2="504.597" stroke="#222" stroke-width="0.8"/>
<line x1="163.5" y1="503.702" x2="167.1" y2="503.702" stroke="#222" stroke-width="0.9"/>
<rect x="170.15" y="514.621" width="8.7" height="9.129" fill="#800080" stroke="#333" stroke-width="0.6"/>
<line x1="174.5" y1="512.831" x2="174.5" y2="514.621" stroke="#222" stroke-width="0.8"/>
<line x1="172.7" y1="512.831" x2="176.3" y2="512.831" stroke="#222" stroke-width="0.9"/>
<rect x="179.35" y="516.5" width="8.7" height="7.2495" fill="#800000" stroke="#333" stroke-width="0.6"/>
<line x1="183.7" y1="513.368" x2="183.7" y2="516.5" stroke="#222" stroke-width="0.8"/>
<line x1="181.9" y1="513.368" x2="185.5" y2="513.368" stroke="#222" stroke-width="0.9"/>
<rect x="188.55" y="521.513" width="8.7" height="2.2375" fill="#a09a90" stroke="#333" stroke-width="0.6"/>
<line x1="192.9" y1="521.065" x2="192.9" y2="521.513" stroke="#222" stroke-width="0.8"/>
<line x1="191.1" y1="521.065" x2="194.7" y2="521.065" stroke="#222" stroke-width="0.9"/>
<rect x="224.75" y="448.123" width="8.75" height="75.6275" fill="#ccffcc" stroke="#333" stroke-width="0.6"/>
<line x1="229.125" y1="447.854" x2="229.125" y2="448.123" stroke="#222" stroke-width="0.8"/>
<line x1="227.325" y1="447.854" x2="230.925" y2="447.854" stroke="#222" stroke-width="0.9"/>
<rect x="234" y="468.26" width="8.75" height="55.49" fill="#ffff99" stroke="#333" stroke-width="0.6"/>
<line x1="238.375" y1="467.812" x2="238.375" y2="468.26" stroke="#222" stroke-width="0.8"/>
<line x1="236.575" y1="467.812" x2="240.175" y2="467.812" stroke="#222" stroke-width="0.9"/>
<rect x="243.25" y="483.923" width="8.75" height="39.8275" fill="#99ccff" stroke="#333" stroke-width="0.6"/>
<line x1="247.625" y1="483.475" x2="247.625" y2="483.923" stroke="#222" stroke-width="0.8"/>
<line x1="245.825" y1="483.475" x2="249.425" y2="483.475" stroke="#222" stroke-width="0.9"/>
<rect x="252.5" y="497.795" width="8.75" height="25.955" fill="#ff99cc" stroke="#333" stroke-width="0.6"/>
<line x1="256.875" y1="497.348" x2="256.875" y2="497.795" stroke="#222" stroke-width="0.8"/>
<line x1="255.075" y1="497.348" x2="258.675" y2="497.348" stroke="#222" stroke-width="0.9"/>
<rect x="261.75" y="511.578" width="8.75" height="12.172" fill="#cc99ff" stroke="#333" stroke-width="0.6"/>
<line x1="266.125" y1="510.862" x2="266.125" y2="511.578" stroke="#222" stroke-width="0.8"/>
<line x1="264.325" y1="510.862" x2="267.925" y2="510.862" stroke="#222" stroke-width="0.9"/>
<rect x="271" y="521.065" width="8.75" height="2.685" fill="#ffcc99" stroke="#333" stroke-width="0.6"/>
<line x1="275.375" y1="520.618" x2="275.375" y2="521.065" stroke="#222" stroke-width="0.8"/>
<line x1="273.575" y1="520.618" x2="277.175" y2="520.618" stroke="#222" stroke-width="0.9"/>
<text x="58" y="442.8" font-size="8.3" font-weight="bold" text-anchor="middle" fill="#000">a</text>
<text x="70" y="442.8" font-size="8.3" font-weight="bold" text-anchor="middle" fill="#000">b</text>
<text x="79" y="442.8" font-size="8.3" font-weight="bold" text-anchor="middle" fill="#000">c</text>
<text x="88.2" y="442.8" font-size="8.3" font-weight="bold" text-anchor="middle" fill="#000">d</text>
<text x="97.6" y="442.8" font-size="8.3" font-weight="bold" text-anchor="middle" fill="#000">e</text>
<text x="106" y="442.8" font-size="8.3" font-weight="bold" text-anchor="middle" fill="#000">f</text>
<text x="139.2" y="443.5" font-size="8.3" font-weight="bold" text-anchor="middle" fill="#000">g</text>
<text x="150.9" y="443.5" font-size="8.3" font-weight="bold" text-anchor="middle" fill="#000">h</text>
<text x="159.8" y="443.5" font-size="8.3" font-weight="bold" text-anchor="middle" fill="#000">i</text>
<text x="168.9" y="443.5" font-size="8.3" font-weight="bold" text-anchor="middle" fill="#000">j</text>
<text x="177.1" y="443.5" font-size="8.3" font-weight="bold" text-anchor="middle" fill="#000">k</text>
<text x="187.5" y="443.5" font-size="8.3" font-weight="bold" text-anchor="middle" fill="#000">l</text>
<text x="219.9" y="432.3" font-size="8.3" font-weight="bold" text-anchor="start" fill="#000">a + g</text>
<text x="232.7" y="440.8" font-size="8.3" font-weight="bold" text-anchor="start" fill="#000">b + h</text>
<text x="241.2" y="449.2" font-size="8.3" font-weight="bold" text-anchor="start" fill="#000">c + i</text>
<text x="251.9" y="456.9" font-size="8.3" font-weight="bold" text-anchor="start" fill="#000">d + j</text>
<text x="260.8" y="463.5" font-size="8.3" font-weight="bold" text-anchor="start" fill="#000">e + k</text>
<text x="273.2" y="471.2" font-size="8.3" font-weight="bold" text-anchor="start" fill="#000">f + l</text>
<text x="83.1" y="535.8" font-size="9" font-weight="bold" text-anchor="middle" fill="#000">Ibrutinib</text>
<text x="166.6" y="535.5" font-size="9" font-weight="bold" text-anchor="middle" fill="#000">IRAK1/4-In</text>
<text x="250.5" y="535.3" font-size="8.8" font-weight="bold" text-anchor="middle" fill="#000">Ibrutinib +</text>
<text x="250.6" y="545.9" font-size="8.8" font-weight="bold" text-anchor="middle" fill="#000">IRAK1/4-In</text>
<text x="301.9" y="418.4" font-size="14" font-weight="bold" text-anchor="start" fill="#000">F</text>
<defs>
<filter id="bl1" x="-10%" y="-50%" width="120%" height="200%"><feGaussianBlur stdDeviation="1.3 1.0"/></filter>
<linearGradient id="bg2" x1="0" x2="0" y1="0" y2="1"><stop offset="0" stop-color="#bcbcbc"/><stop offset="0.3" stop-color="#b2b2b2"/><stop offset="1" stop-color="#b0b0b0"/></linearGradient>
<linearGradient id="bg1" x1="0" x2="0" y1="0" y2="1"><stop offset="0" stop-color="#a6a6a6"/><stop offset="1" stop-color="#b8b8b8"/></linearGradient>
</defs>
<rect x="317.8" y="452.9" width="109" height="18.4" fill="url(#bg1)"/>
<g filter="url(#bl1)">
<rect x="318.5" y="459.6" width="25.5" height="5.2" rx="3" ry="2.36364" fill="#2c2c2c"/>
<rect x="346" y="459.9" width="25.5" height="4.6" rx="3" ry="2.09091" fill="#3c3c3c"/>
<rect x="373.5" y="459.9" width="25.5" height="4.6" rx="3" ry="2.09091" fill="#464646"/>
<rect x="401.5" y="460.5" width="24" height="3.4" rx="3" ry="1.54545" fill="#707070"/>
</g>
<rect x="318.2" y="488.5" width="108" height="18.5" fill="url(#bg2)"/>
<g filter="url(#bl1)">
<rect x="318.5" y="493.9" width="26" height="6.2" rx="3" ry="2.81818" fill="#3c3c3c"/>
<rect x="345.5" y="493.9" width="26" height="6.2" rx="3" ry="2.81818" fill="#3e3e3e"/>
<rect x="372.5" y="493.9" width="26.5" height="6.2" rx="3" ry="2.81818" fill="#3c3c3c"/>
<rect x="400" y="494" width="26" height="6" rx="3" ry="2.72727" fill="#444"/>
</g>
<rect x="318.2" y="519.8" width="108.5" height="19" fill="#a9a9a9"/>
<g filter="url(#bl1)">
<rect x="318.2" y="525" width="28.8" height="9.6" rx="3" ry="4.36364" fill="#1c1c1c"/>
<rect x="346" y="525.2" width="28" height="9.2" rx="3" ry="4.18182" fill="#222"/>
<rect x="373" y="525.3" width="28" height="9" rx="3" ry="4.09091" fill="#222"/>
<rect x="400" y="525.3" width="26.7" height="9" rx="3" ry="4.09091" fill="#252525"/>
</g>
<text x="332" y="480.2" font-size="7.6" font-weight="bold" text-anchor="middle" fill="#000">100</text>
<text x="359" y="480.2" font-size="7.6" font-weight="bold" text-anchor="middle" fill="#000">76.4</text>
<text x="386.3" y="480.2" font-size="7.6" font-weight="bold" text-anchor="middle" fill="#000">61.4</text>
<text x="413.3" y="480.2" font-size="7.6" font-weight="bold" text-anchor="middle" fill="#000">34.4</text>
<text x="430" y="465.6" font-size="8.9" font-weight="bold" text-anchor="start" fill="#000">p-IKBα</text>
<text x="433.7" y="478.4" font-size="8.4" font-weight="bold" text-anchor="start" fill="#000">relative density of</text>
<text x="433.7" y="489" font-size="8.4" font-weight="bold" text-anchor="start" fill="#000">phos-/total IKBα (%)</text>
<text x="430.8" y="505.2" font-size="8.6" font-weight="bold" text-anchor="start" fill="#000">IKBα</text>
<text x="431.4" y="535.2" font-size="8.6" font-weight="bold" text-anchor="start" fill="#000">GAPDH</text>
<path d="M427.6 470 H429.8 V491.2 H427.6" fill="none" stroke="#111" stroke-width="1.1"/>
<text x="323.5" y="447" font-size="9.6" font-weight="bold" text-anchor="start" fill="#000" transform="rotate(-43 323.5 447)">DMSO</text>
<text x="352.5" y="446" font-size="8.8" font-weight="bold" text-anchor="start" fill="#000" transform="rotate(-43 352.5 446)">IRAK-In</text>
<text x="379" y="444.5" font-size="8.8" font-weight="bold" text-anchor="start" fill="#000" transform="rotate(-43 379 444.5)">Ibrutinib</text>
<text x="406.5" y="440.5" font-size="8.8" font-weight="bold" text-anchor="start" fill="#000" transform="rotate(-43 406.5 440.5)">Ibrutinib +</text>
<text x="414" y="448.5" font-size="8.8" font-weight="bold" text-anchor="start" fill="#000" transform="rotate(-43 414 448.5)">IRAK-In</text>
<text x="0.6" y="568.9" font-size="14" font-weight="bold" text-anchor="start" fill="#000">G</text>
<line x1="34" y1="668" x2="36.5" y2="668" stroke="#999" stroke-width="0.9"/>
<text x="31.2" y="670" font-size="5.5" font-weight="bold" text-anchor="end" fill="#222" letter-spacing="0.05">0.0%</text>
<line x1="36.5" y1="652.75" x2="247.9" y2="652.75" stroke="#b8b8b8" stroke-width="0.9"/>
<line x1="34" y1="652.75" x2="36.5" y2="652.75" stroke="#999" stroke-width="0.9"/>
<text x="31.2" y="654.75" font-size="5.5" font-weight="bold" text-anchor="end" fill="#222" letter-spacing="0.05">20.0%</text>
<line x1="36.5" y1="637.5" x2="247.9" y2="637.5" stroke="#b8b8b8" stroke-width="0.9"/>
<line x1="34" y1="637.5" x2="36.5" y2="637.5" stroke="#999" stroke-width="0.9"/>
<text x="31.2" y="639.5" font-size="5.5" font-weight="bold" text-anchor="end" fill="#222" letter-spacing="0.05">40.0%</text>
<line x1="36.5" y1="622.25" x2="247.9" y2="622.25" stroke="#b8b8b8" stroke-width="0.9"/>
<line x1="34" y1="622.25" x2="36.5" y2="622.25" stroke="#999" stroke-width="0.9"/>
<text x="31.2" y="624.25" font-size="5.5" font-weight="bold" text-anchor="end" fill="#222" letter-spacing="0.05">60.0%</text>
<line x1="36.5" y1="607" x2="247.9" y2="607" stroke="#b8b8b8" stroke-width="0.9"/>
<line x1="34" y1="607" x2="36.5" y2="607" stroke="#999" stroke-width="0.9"/>
<text x="31.2" y="609" font-size="5.5" font-weight="bold" text-anchor="end" fill="#222" letter-spacing="0.05">80.0%</text>
<line x1="36.5" y1="591.75" x2="247.9" y2="591.75" stroke="#b8b8b8" stroke-width="0.9"/>
<line x1="34" y1="591.75" x2="36.5" y2="591.75" stroke="#999" stroke-width="0.9"/>
<text x="31.2" y="593.75" font-size="5.5" font-weight="bold" text-anchor="end" fill="#222" letter-spacing="0.05">100.0%</text>
<line x1="36.5" y1="576.5" x2="247.9" y2="576.5" stroke="#b8b8b8" stroke-width="0.9"/>
<line x1="34" y1="576.5" x2="36.5" y2="576.5" stroke="#999" stroke-width="0.9"/>
<text x="31.2" y="578.5" font-size="5.5" font-weight="bold" text-anchor="end" fill="#222" letter-spacing="0.05">120.0%</text>
<line x1="36.5" y1="576" x2="36.5" y2="671" stroke="#999" stroke-width="0.9"/>
<line x1="36.5" y1="668" x2="247.9" y2="668" stroke="#999" stroke-width="0.9"/>
<line x1="52.7615" y1="668" x2="52.7615" y2="671" stroke="#999" stroke-width="0.9"/>
<line x1="69.0231" y1="668" x2="69.0231" y2="671" stroke="#999" stroke-width="0.9"/>
<line x1="85.2846" y1="668" x2="85.2846" y2="671" stroke="#999" stroke-width="0.9"/>
<line x1="101.546" y1="668" x2="101.546" y2="671" stroke="#999" stroke-width="0.9"/>
<line x1="117.808" y1="668" x2="117.808" y2="671" stroke="#999" stroke-width="0.9"/>
<line x1="134.069" y1="668" x2="134.069" y2="671" stroke="#999" stroke-width="0.9"/>
<line x1="150.331" y1="668" x2="150.331" y2="671" stroke="#999" stroke-width="0.9"/>
<line x1="166.592" y1="668" x2="166.592" y2="671" stroke="#999" stroke-width="0.9"/>
<line x1="182.854" y1="668" x2="182.854" y2="671" stroke="#999" stroke-width="0.9"/>
<line x1="199.115" y1="668" x2="199.115" y2="671" stroke="#999" stroke-width="0.9"/>
<line x1="215.377" y1="668" x2="215.377" y2="671" stroke="#999" stroke-width="0.9"/>
<line x1="231.638" y1="668" x2="231.638" y2="671" stroke="#999" stroke-width="0.9"/>
<line x1="247.9" y1="668" x2="247.9" y2="671" stroke="#999" stroke-width="0.9"/>
<rect x="41.5808" y="591.75" width="6.1" height="76.25" fill="#4a80c8"/>
<line x1="44.6308" y1="591.75" x2="44.6308" y2="591.75" stroke="#111" stroke-width="0.9"/>
<line x1="42.4308" y1="591.75" x2="46.8308" y2="591.75" stroke="#111" stroke-width="1"/>
<line x1="42.4308" y1="591.75" x2="46.8308" y2="591.75" stroke="#111" stroke-width="1"/>
<rect x="74.1038" y="620.878" width="6.1" height="47.1225" fill="#4a80c8"/>
<line x1="77.1538" y1="609.44" x2="77.1538" y2="632.315" stroke="#111" stroke-width="0.9"/>
<line x1="74.9538" y1="609.44" x2="79.3538" y2="609.44" stroke="#111" stroke-width="1"/>
<line x1="74.9538" y1="632.315" x2="79.3538" y2="632.315" stroke="#111" stroke-width="1"/>
<rect x="90.3654" y="611.651" width="6.1" height="56.3487" fill="#4a80c8"/>
<line x1="93.4154" y1="600.976" x2="93.4154" y2="622.326" stroke="#111" stroke-width="0.9"/>
<line x1="91.2154" y1="600.976" x2="95.6154" y2="600.976" stroke="#111" stroke-width="1"/>
<line x1="91.2154" y1="622.326" x2="95.6154" y2="622.326" stroke="#111" stroke-width="1"/>
<rect x="106.627" y="604.789" width="6.1" height="63.2112" fill="#4a80c8"/>
<line x1="109.677" y1="594.495" x2="109.677" y2="615.082" stroke="#111" stroke-width="0.9"/>
<line x1="107.477" y1="594.495" x2="111.877" y2="594.495" stroke="#111" stroke-width="1"/>
<line x1="107.477" y1="615.082" x2="111.877" y2="615.082" stroke="#111" stroke-width="1"/>
<rect x="139.15" y="616.531" width="6.1" height="51.4688" fill="#4a80c8"/>
<line x1="142.2" y1="607" x2="142.2" y2="626.062" stroke="#111" stroke-width="0.9"/>
<line x1="140" y1="607" x2="144.4" y2="607" stroke="#111" stroke-width="1"/>
<line x1="140" y1="626.062" x2="144.4" y2="626.062" stroke="#111" stroke-width="1"/>
<rect x="155.412" y="611.727" width="6.1" height="56.2725" fill="#4a80c8"/>
<line x1="158.462" y1="602.577" x2="158.462" y2="620.878" stroke="#111" stroke-width="0.9"/>
<line x1="156.262" y1="602.577" x2="160.662" y2="602.577" stroke="#111" stroke-width="1"/>
<line x1="156.262" y1="620.878" x2="160.662" y2="620.878" stroke="#111" stroke-width="1"/>
<rect x="171.673" y="610.584" width="6.1" height="57.4162" fill="#4a80c8"/>
<line x1="174.723" y1="601.281" x2="174.723" y2="619.886" stroke="#111" stroke-width="0.9"/>
<line x1="172.523" y1="601.281" x2="176.923" y2="601.281" stroke="#111" stroke-width="1"/>
<line x1="172.523" y1="619.886" x2="176.923" y2="619.886" stroke="#111" stroke-width="1"/>
<rect x="204.196" y="634.221" width="6.1" height="33.7787" fill="#4a80c8"/>
<line x1="207.246" y1="621.259" x2="207.246" y2="647.184" stroke="#111" stroke-width="0.9"/>
<line x1="205.046" y1="621.259" x2="209.446" y2="621.259" stroke="#111" stroke-width="1"/>
<line x1="205.046" y1="647.184" x2="209.446" y2="647.184" stroke="#111" stroke-width="1"/>
<rect x="220.458" y="624.309" width="6.1" height="43.6912" fill="#4a80c8"/>
<line x1="223.508" y1="609.516" x2="223.508" y2="639.101" stroke="#111" stroke-width="0.9"/>
<line x1="221.308" y1="609.516" x2="225.708" y2="609.516" stroke="#111" stroke-width="1"/>
<line x1="221.308" y1="639.101" x2="225.708" y2="639.101" stroke="#111" stroke-width="1"/>
<rect x="236.719" y="617.141" width="6.1" height="50.8587" fill="#4a80c8"/>
<line x1="239.769" y1="597.85" x2="239.769" y2="636.433" stroke="#111" stroke-width="0.9"/>
<line x1="237.569" y1="597.85" x2="241.969" y2="597.85" stroke="#111" stroke-width="1"/>
<line x1="237.569" y1="636.433" x2="241.969" y2="636.433" stroke="#111" stroke-width="1"/>
<text x="69.5" y="566" font-size="9" font-weight="bold" text-anchor="start" fill="#000">WM patients BM-CD19+ LPCs (N=4)</text>
<text x="8.8" y="622" font-size="9" font-weight="bold" text-anchor="middle" fill="#000" transform="rotate(-90 8.8 622)">Relative survival (%)</text>
<text x="52.1" y="682.3" font-size="7.5" font-weight="bold" text-anchor="middle" fill="#000">( µM )</text>
<text x="80.5" y="682.6" font-size="7.3" font-weight="bold" text-anchor="middle" fill="#000">4.0</text>
<text x="97" y="682.6" font-size="7.3" font-weight="bold" text-anchor="middle" fill="#000">2.0</text>
<text x="114" y="682.6" font-size="7.3" font-weight="bold" text-anchor="middle" fill="#000">1.0</text>
<text x="142.5" y="682.6" font-size="7.3" font-weight="bold" text-anchor="middle" fill="#000">20.0</text>
<text x="161.6" y="682.6" font-size="7.3" font-weight="bold" text-anchor="middle" fill="#000">10.0</text>
<text x="178" y="682.6" font-size="7.3" font-weight="bold" text-anchor="middle" fill="#000">5.0</text>
<text x="206.9" y="682.3" font-size="7.3" font-weight="bold" text-anchor="middle" fill="#000">4.0</text>
<text x="206.4" y="688.6" font-size="7.8" font-weight="bold" text-anchor="middle" fill="#000">+</text>
<text x="207.7" y="695.4" font-size="7.3" font-weight="bold" text-anchor="middle" fill="#000">20.0</text>
<text x="225.1" y="682.3" font-size="7.3" font-weight="bold" text-anchor="middle" fill="#000">2.0</text>
<text x="224.6" y="688.6" font-size="7.8" font-weight="bold" text-anchor="middle" fill="#000">+</text>
<text x="225.9" y="695.4" font-size="7.3" font-weight="bold" text-anchor="middle" fill="#000">10.0</text>
<text x="243" y="682.3" font-size="7.3" font-weight="bold" text-anchor="middle" fill="#000">1.0</text>
<text x="242.5" y="688.6" font-size="7.8" font-weight="bold" text-anchor="middle" fill="#000">+</text>
<text x="243" y="695.4" font-size="7.3" font-weight="bold" text-anchor="middle" fill="#000">5.0</text>
<text x="51.4308" y="705.5" font-size="9" font-weight="bold" text-anchor="middle" fill="#000">DMSO</text>
<text x="97.1154" y="705.5" font-size="9" font-weight="bold" text-anchor="middle" fill="#000">Ibrutinib</text>
<text x="157.162" y="705.5" font-size="9" font-weight="bold" text-anchor="middle" fill="#000">IRAK-In</text>
<text x="222" y="705.5" font-size="9.15" font-weight="bold" text-anchor="middle" fill="#000">Ibrutinib+IRAK-In</text>
<line x1="291.7" y1="668" x2="294.2" y2="668" stroke="#999" stroke-width="0.9"/>
<text x="288.9" y="670" font-size="5.5" font-weight="bold" text-anchor="end" fill="#222" letter-spacing="0.05">0.0%</text>
<line x1="294.2" y1="652.75" x2="507.9" y2="652.75" stroke="#b8b8b8" stroke-width="0.9"/>
<line x1="291.7" y1="652.75" x2="294.2" y2="652.75" stroke="#999" stroke-width="0.9"/>
<text x="288.9" y="654.75" font-size="5.5" font-weight="bold" text-anchor="end" fill="#222" letter-spacing="0.05">20.0%</text>
<line x1="294.2" y1="637.5" x2="507.9" y2="637.5" stroke="#b8b8b8" stroke-width="0.9"/>
<line x1="291.7" y1="637.5" x2="294.2" y2="637.5" stroke="#999" stroke-width="0.9"/>
<text x="288.9" y="639.5" font-size="5.5" font-weight="bold" text-anchor="end" fill="#222" letter-spacing="0.05">40.0%</text>
<line x1="294.2" y1="622.25" x2="507.9" y2="622.25" stroke="#b8b8b8" stroke-width="0.9"/>
<line x1="291.7" y1="622.25" x2="294.2" y2="622.25" stroke="#999" stroke-width="0.9"/>
<text x="288.9" y="624.25" font-size="5.5" font-weight="bold" text-anchor="end" fill="#222" letter-spacing="0.05">60.0%</text>
<line x1="294.2" y1="607" x2="507.9" y2="607" stroke="#b8b8b8" stroke-width="0.9"/>
<line x1="291.7" y1="607" x2="294.2" y2="607" stroke="#999" stroke-width="0.9"/>
<text x="288.9" y="609" font-size="5.5" font-weight="bold" text-anchor="end" fill="#222" letter-spacing="0.05">80.0%</text>
<line x1="294.2" y1="591.75" x2="507.9" y2="591.75" stroke="#b8b8b8" stroke-width="0.9"/>
<line x1="291.7" y1="591.75" x2="294.2" y2="591.75" stroke="#999" stroke-width="0.9"/>
<text x="288.9" y="593.75" font-size="5.5" font-weight="bold" text-anchor="end" fill="#222" letter-spacing="0.05">100.0%</text>
<line x1="294.2" y1="576.5" x2="507.9" y2="576.5" stroke="#b8b8b8" stroke-width="0.9"/>
<line x1="291.7" y1="576.5" x2="294.2" y2="576.5" stroke="#999" stroke-width="0.9"/>
<text x="288.9" y="578.5" font-size="5.5" font-weight="bold" text-anchor="end" fill="#222" letter-spacing="0.05">120.0%</text>
<line x1="294.2" y1="576" x2="294.2" y2="671" stroke="#999" stroke-width="0.9"/>
<line x1="294.2" y1="668" x2="507.9" y2="668" stroke="#999" stroke-width="0.9"/>
<line x1="310.638" y1="668" x2="310.638" y2="671" stroke="#999" stroke-width="0.9"/>
<line x1="327.077" y1="668" x2="327.077" y2="671" stroke="#999" stroke-width="0.9"/>
<line x1="343.515" y1="668" x2="343.515" y2="671" stroke="#999" stroke-width="0.9"/>
<line x1="359.954" y1="668" x2="359.954" y2="671" stroke="#999" stroke-width="0.9"/>
<line x1="376.392" y1="668" x2="376.392" y2="671" stroke="#999" stroke-width="0.9"/>
<line x1="392.831" y1="668" x2="392.831" y2="671" stroke="#999" stroke-width="0.9"/>
<line x1="409.269" y1="668" x2="409.269" y2="671" stroke="#999" stroke-width="0.9"/>
<line x1="425.708" y1="668" x2="425.708" y2="671" stroke="#999" stroke-width="0.9"/>
<line x1="442.146" y1="668" x2="442.146" y2="671" stroke="#999" stroke-width="0.9"/>
<line x1="458.585" y1="668" x2="458.585" y2="671" stroke="#999" stroke-width="0.9"/>
<line x1="475.023" y1="668" x2="475.023" y2="671" stroke="#999" stroke-width="0.9"/>
<line x1="491.462" y1="668" x2="491.462" y2="671" stroke="#999" stroke-width="0.9"/>
<line x1="507.9" y1="668" x2="507.9" y2="671" stroke="#999" stroke-width="0.9"/>
<rect x="299.369" y="591.75" width="6.1" height="76.25" fill="#4a80c8"/>
<line x1="302.419" y1="591.75" x2="302.419" y2="591.75" stroke="#111" stroke-width="0.9"/>
<line x1="300.219" y1="591.75" x2="304.619" y2="591.75" stroke="#111" stroke-width="1"/>
<line x1="300.219" y1="591.75" x2="304.619" y2="591.75" stroke="#111" stroke-width="1"/>
<rect x="332.246" y="610.965" width="6.1" height="57.035" fill="#4a80c8"/>
<line x1="335.296" y1="607.153" x2="335.296" y2="614.778" stroke="#111" stroke-width="0.9"/>
<line x1="333.096" y1="607.153" x2="337.496" y2="607.153" stroke="#111" stroke-width="1"/>
<line x1="333.096" y1="614.778" x2="337.496" y2="614.778" stroke="#111" stroke-width="1"/>
<rect x="348.685" y="610.431" width="6.1" height="57.5688" fill="#4a80c8"/>
<line x1="351.735" y1="606.39" x2="351.735" y2="614.472" stroke="#111" stroke-width="0.9"/>
<line x1="349.535" y1="606.39" x2="353.935" y2="606.39" stroke="#111" stroke-width="1"/>
<line x1="349.535" y1="614.472" x2="353.935" y2="614.472" stroke="#111" stroke-width="1"/>
<rect x="365.123" y="609.974" width="6.1" height="58.0263" fill="#4a80c8"/>
<line x1="368.173" y1="604.026" x2="368.173" y2="615.921" stroke="#111" stroke-width="0.9"/>
<line x1="365.973" y1="604.026" x2="370.373" y2="604.026" stroke="#111" stroke-width="1"/>
<line x1="365.973" y1="615.921" x2="370.373" y2="615.921" stroke="#111" stroke-width="1"/>
<rect x="398" y="594.495" width="6.1" height="73.505" fill="#4a80c8"/>
<line x1="401.05" y1="586.717" x2="401.05" y2="602.273" stroke="#111" stroke-width="0.9"/>
<line x1="398.85" y1="586.717" x2="403.25" y2="586.717" stroke="#111" stroke-width="1"/>
<line x1="398.85" y1="602.273" x2="403.25" y2="602.273" stroke="#111" stroke-width="1"/>
<rect x="414.438" y="593.885" width="6.1" height="74.115" fill="#4a80c8"/>
<line x1="417.488" y1="586.26" x2="417.488" y2="601.51" stroke="#111" stroke-width="0.9"/>
<line x1="415.288" y1="586.26" x2="419.688" y2="586.26" stroke="#111" stroke-width="1"/>
<line x1="415.288" y1="601.51" x2="419.688" y2="601.51" stroke="#111" stroke-width="1"/>
<rect x="430.877" y="597.087" width="6.1" height="70.9125" fill="#4a80c8"/>
<line x1="433.927" y1="587.404" x2="433.927" y2="606.771" stroke="#111" stroke-width="0.9"/>
<line x1="431.727" y1="587.404" x2="436.127" y2="587.404" stroke="#111" stroke-width="1"/>
<line x1="431.727" y1="606.771" x2="436.127" y2="606.771" stroke="#111" stroke-width="1"/>
<rect x="463.754" y="605.933" width="6.1" height="62.0675" fill="#4a80c8"/>
<line x1="466.804" y1="588.09" x2="466.804" y2="623.775" stroke="#111" stroke-width="0.9"/>
<line x1="464.604" y1="588.09" x2="469.004" y2="588.09" stroke="#111" stroke-width="1"/>
<line x1="464.604" y1="623.775" x2="469.004" y2="623.775" stroke="#111" stroke-width="1"/>
<rect x="480.192" y="601.967" width="6.1" height="66.0325" fill="#4a80c8"/>
<line x1="483.242" y1="586.717" x2="483.242" y2="617.217" stroke="#111" stroke-width="0.9"/>
<line x1="481.042" y1="586.717" x2="485.442" y2="586.717" stroke="#111" stroke-width="1"/>
<line x1="481.042" y1="617.217" x2="485.442" y2="617.217" stroke="#111" stroke-width="1"/>
<rect x="496.631" y="600.442" width="6.1" height="67.5575" fill="#4a80c8"/>
<line x1="499.681" y1="586.184" x2="499.681" y2="614.701" stroke="#111" stroke-width="0.9"/>
<line x1="497.481" y1="586.184" x2="501.881" y2="586.184" stroke="#111" stroke-width="1"/>
<line x1="497.481" y1="614.701" x2="501.881" y2="614.701" stroke="#111" stroke-width="1"/>
<text x="318.6" y="566" font-size="9" font-weight="bold" text-anchor="start" fill="#000">Healthy donors PBMC-CD19+ cells (N=4)</text>
<text x="266.3" y="622" font-size="9" font-weight="bold" text-anchor="middle" fill="#000" transform="rotate(-90 266.3 622)">Relative survival (%)</text>
<text x="309.8" y="682.3" font-size="7.5" font-weight="bold" text-anchor="middle" fill="#000">( µM )</text>
<text x="338.2" y="682.6" font-size="7.3" font-weight="bold" text-anchor="middle" fill="#000">4.0</text>
<text x="354.7" y="682.6" font-size="7.3" font-weight="bold" text-anchor="middle" fill="#000">2.0</text>
<text x="371.7" y="682.6" font-size="7.3" font-weight="bold" text-anchor="middle" fill="#000">1.0</text>
<text x="400.2" y="682.6" font-size="7.3" font-weight="bold" text-anchor="middle" fill="#000">20.0</text>
<text x="419.3" y="682.6" font-size="7.3" font-weight="bold" text-anchor="middle" fill="#000">10.0</text>
<text x="435.7" y="682.6" font-size="7.3" font-weight="bold" text-anchor="middle" fill="#000">5.0</text>
<text x="464.6" y="682.3" font-size="7.3" font-weight="bold" text-anchor="middle" fill="#000">4.0</text>
<text x="464.1" y="688.6" font-size="7.8" font-weight="bold" text-anchor="middle" fill="#000">+</text>
<text x="465.4" y="695.4" font-size="7.3" font-weight="bold" text-anchor="middle" fill="#000">20.0</text>
<text x="482.8" y="682.3" font-size="7.3" font-weight="bold" text-anchor="middle" fill="#000">2.0</text>
<text x="482.3" y="688.6" font-size="7.8" font-weight="bold" text-anchor="middle" fill="#000">+</text>
<text x="483.6" y="695.4" font-size="7.3" font-weight="bold" text-anchor="middle" fill="#000">10.0</text>
<text x="500.7" y="682.3" font-size="7.3" font-weight="bold" text-anchor="middle" fill="#000">1.0</text>
<text x="500.2" y="688.6" font-size="7.8" font-weight="bold" text-anchor="middle" fill="#000">+</text>
<text x="500.7" y="695.4" font-size="7.3" font-weight="bold" text-anchor="middle" fill="#000">5.0</text>
<text x="310.519" y="705.5" font-size="9" font-weight="bold" text-anchor="middle" fill="#000">DMSO</text>
<text x="355.435" y="705.5" font-size="9" font-weight="bold" text-anchor="middle" fill="#000">Ibrutinib</text>
<text x="416.188" y="705.5" font-size="9" font-weight="bold" text-anchor="middle" fill="#000">IRAK-In</text>
<text x="480.7" y="705.5" font-size="9.15" font-weight="bold" text-anchor="middle" fill="#000">Ibrutinib+IRAK-In</text>
</svg>
</body></html>
